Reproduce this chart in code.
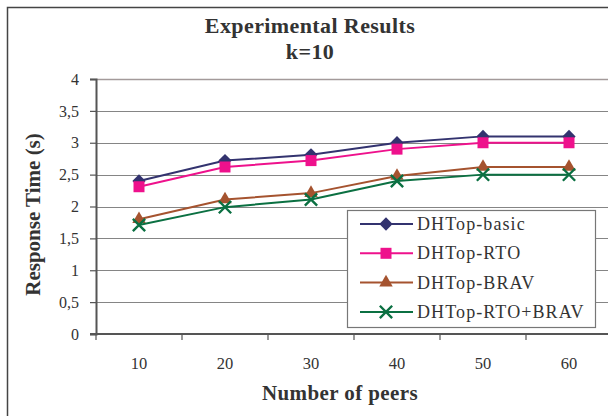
<!DOCTYPE html>
<html>
<head>
<meta charset="utf-8">
<script src="https://cdn.jsdelivr.net/npm/d3@7"></script>
<style>
  body { margin: 0; background: #fff; }
  svg { display: block; font-family: "Liberation Serif", "Times New Roman", serif; }
</style>
</head>
<body>
<div id="wrapper"></div>
<script>
const peers = ["10", "20", "30", "40", "50", "60"];
const yTicks = [0, 0.5, 1, 1.5, 2, 2.5, 3, 3.5, 4];

const basic = [2.4, 2.72, 2.81, 3.0, 3.1, 3.1];
const rto = [2.31, 2.62, 2.72, 2.9, 3.0, 3.0];
const brav = [1.8, 2.11, 2.21, 2.48, 2.62, 2.62];
const rtoBrav = [1.71, 1.99, 2.11, 2.4, 2.5, 2.5];

const seriesNames = ["DHTop-basic", "DHTop-RTO", "DHTop-BRAV", "DHTop-RTO+BRAV"];

function drawChart() {
  const dimensions = {
    width: 608,
    height: 416,
    left: 96,
    top: 79,
    bottom: 334,
    band: 86,
  };

  const series = [
    { name: seriesNames[0], values: basic, color: "#33336f", symbol: "diamond" },
    { name: seriesNames[1], values: rto, color: "#ee118c", symbol: "square" },
    { name: seriesNames[2], values: brav, color: "#a5532f", symbol: "triangle" },
    { name: seriesNames[3], values: rtoBrav, color: "#0b7042", symbol: "times" },
  ];

  const svg = d3
    .select("#wrapper")
    .append("svg")
    .attr("width", dimensions.width)
    .attr("height", dimensions.height);

  // outer chart border (runs off the right and bottom of the picture)
  svg
    .append("rect")
    .attr("x", 7.5)
    .attr("y", 7.5)
    .attr("width", 640)
    .attr("height", 440)
    .attr("fill", "#fff")
    .attr("stroke", "#444")
    .attr("stroke-width", 1.5);

  const x = d3
    .scaleBand()
    .domain(peers)
    .range([dimensions.left, dimensions.left + peers.length * dimensions.band]);

  const y = d3
    .scaleLinear()
    .domain([0, 4])
    .range([dimensions.bottom, dimensions.top]);

  // gridlines
  svg
    .append("g")
    .selectAll("line")
    .data(yTicks.filter((d) => d > 0))
    .enter()
    .append("line")
    .attr("x1", dimensions.left)
    .attr("x2", 640)
    .attr("y1", (d) => Math.round(y(d)) + 0.5)
    .attr("y2", (d) => Math.round(y(d)) + 0.5)
    .attr("stroke", (d) => (d === 4 ? "#a39a9a" : "#858585"))
    .attr("stroke-width", (d) => (d === 4 ? 1.5 : 1.2));

  // y axis
  const yAxis = svg
    .append("g")
    .attr("transform", `translate(${dimensions.left},0)`)
    .call(
      d3
        .axisLeft(y)
        .tickValues(yTicks)
        .tickSize(6)
        .tickPadding(11)
        .tickFormat((d) => String(d).replace(".", ","))
    );
  yAxis.attr("font-family", null);
  yAxis.select(".domain").attr("stroke", "#555").attr("stroke-width", 2);
  yAxis.selectAll(".tick line").attr("stroke", "#555").attr("stroke-width", 1.2);
  yAxis
    .selectAll(".tick text")
    .attr("fill", "#333")
    .attr("font-size", 16);

  // x axis: ticks sit between categories
  const xAxis = svg
    .append("g")
    .attr("transform", `translate(0,${dimensions.bottom})`);
  xAxis
    .append("line")
    .attr("x1", dimensions.left - 6)
    .attr("x2", 640)
    .attr("stroke", "#555")
    .attr("stroke-width", 2);
  xAxis
    .selectAll(".sep")
    .data(peers)
    .enter()
    .append("line")
    .attr("class", "sep")
    .attr("x1", (d) => x(d))
    .attr("x2", (d) => x(d))
    .attr("y1", 0)
    .attr("y2", 6)
    .attr("stroke", "#555")
    .attr("stroke-width", 1.2);
  xAxis
    .selectAll("text")
    .data(peers)
    .enter()
    .append("text")
    .attr("x", (d) => x(d) + x.bandwidth() / 2)
    .attr("y", 35)
    .attr("text-anchor", "middle")
    .attr("fill", "#333")
    .attr("font-size", 16.5)
    .text((d) => d);

  // lines + markers
  const line = d3
    .line()
    .x((_, i) => x(peers[i]) + x.bandwidth() / 2)
    .y((d) => y(d));

  const symbolTypes = {
    diamond: { type: d3.symbolSquare, size: 88, rotate: 45 },
    square: { type: d3.symbolSquare, size: 121, rotate: 0 },
    triangle: { type: d3.symbolTriangle, size: 78, rotate: 0 },
    times: { type: d3.symbolTimes, size: 100, rotate: 0 },
  };

  function drawMarker(g, s, cx, cy) {
    const sym = symbolTypes[s.symbol];
    const path = g
      .append("path")
      .attr("d", d3.symbol(sym.type, sym.size)())
      .attr("transform", `translate(${cx},${cy}) rotate(${sym.rotate})`);
    if (s.symbol === "times") {
      path.attr("fill", "none").attr("stroke", s.color).attr("stroke-width", 2.4);
    } else {
      path.attr("fill", s.color);
    }
  }

  series.forEach((s) => {
    const g = svg.append("g");
    g.append("path")
      .attr("d", line(s.values))
      .attr("fill", "none")
      .attr("stroke", s.color)
      .attr("stroke-width", 2);
    s.values.forEach((v, i) => {
      drawMarker(g, s, x(peers[i]) + x.bandwidth() / 2, y(v));
    });
  });

  // legend
  const legend = svg.append("g");
  legend
    .append("rect")
    .attr("x", 347.5)
    .attr("y", 210.5)
    .attr("width", 248)
    .attr("height", 117)
    .attr("fill", "#fff")
    .attr("stroke", "#777")
    .attr("stroke-width", 1.2);

  series.forEach((s, i) => {
    const cy = 224 + i * 29.3;
    const row = legend.append("g");
    row
      .append("line")
      .attr("x1", 360)
      .attr("x2", 413)
      .attr("y1", cy)
      .attr("y2", cy)
      .attr("stroke", s.color)
      .attr("stroke-width", 2);
    drawMarker(row, s, 386, cy);
    row
      .append("text")
      .attr("x", 417)
      .attr("y", cy + 6)
      .attr("fill", "#333")
      .attr("font-size", 18)
      .attr("letter-spacing", 1.1)
      .text(s.name);
  });

  // titles
  const title = svg
    .append("text")
    .attr("text-anchor", "middle")
    .attr("font-weight", "bold")
    .attr("font-size", 22)
    .attr("letter-spacing", 0.4)
    .attr("fill", "#333");
  title.append("tspan").attr("x", 310).attr("y", 33).text("Experimental Results");
  title.append("tspan").attr("x", 310).attr("y", 59).text("k=10");

  svg
    .append("text")
    .attr("x", 340)
    .attr("y", 400)
    .attr("text-anchor", "middle")
    .attr("font-weight", "bold")
    .attr("font-size", 21)
    .attr("letter-spacing", 0.4)
    .attr("fill", "#333")
    .text("Number of peers");

  svg
    .append("text")
    .attr("transform", `translate(40,${(dimensions.top + dimensions.bottom) / 2 + 8}) rotate(-90)`)
    .attr("text-anchor", "middle")
    .attr("font-weight", "bold")
    .attr("font-size", 21)
    .attr("fill", "#333")
    .text("Response Time (s)");
}

drawChart();
</script>
</body>
</html>
